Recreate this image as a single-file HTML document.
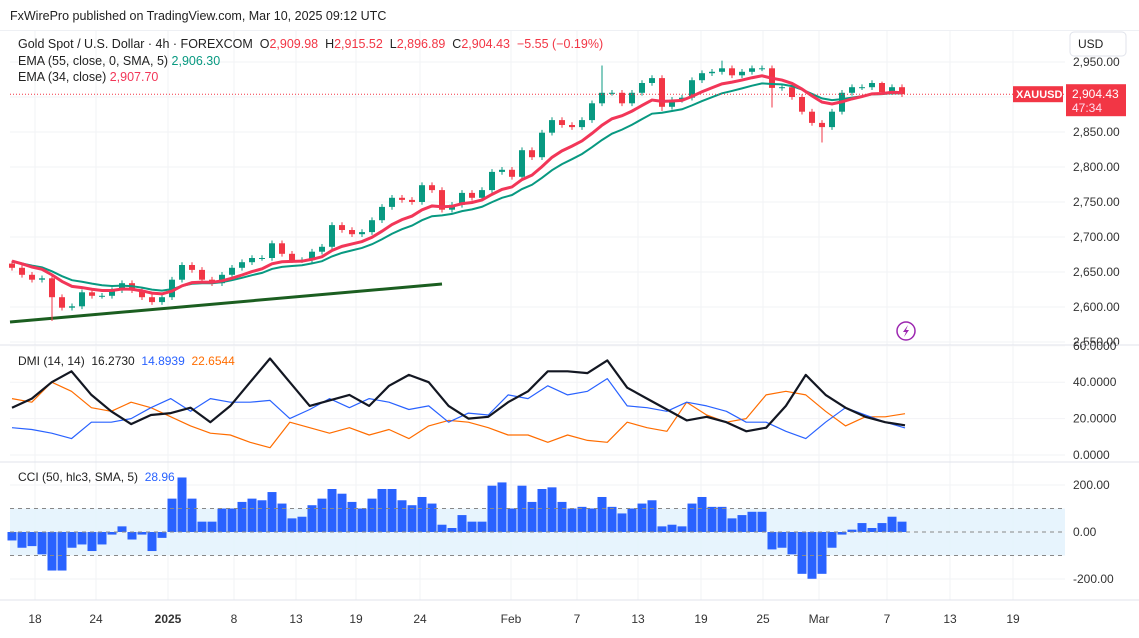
<!DOCTYPE html>
<html><head><meta charset="utf-8"><style>
body{margin:0;background:#fff;font-family:"Liberation Sans",sans-serif;}
#wrap{position:relative;width:1139px;height:638px;overflow:hidden;}
svg text{font-family:"Liberation Sans",sans-serif;}
</style></head><body>
<div id="wrap">
<svg id="c" width="1139" height="638"></svg>
</div>
<script>
const closes=[2656,2646,2639,2641,2614,2599,2601,2621,2616,2616,2624,2634,2624,2614,2607,2614,2639,2660,2653,2639,2634,2646,2656,2664,2670,2670,2691,2676,2667,2667,2679,2686,2717,2710,2704,2707,2724,2743,2756,2753,2750,2774,2767,2739,2746,2763,2756,2767,2793,2796,2786,2824,2814,2849,2867,2860,2857,2867,2891,2906,2906,2891,2906,2920,2927,2886,2896,2899,2924,2934,2936,2941,2931,2936,2941,2941,2913,2914,2900,2879,2863,2857,2879,2906,2914,2914,2920,2907,2914,2904];
const openFirst=2662;
const lowSpikes={4:2580,43:2735,65:2880,76:2885,81:2835};
const highSpikes={59:2945,71:2952,87:2922};
const adx=[26,31,40,46,33,24,17,22,23,26,18,27,40,53,40,27,30,33,27,38,44,40,27,20,21,29,35,46,46,45,52,37,31,25,19,21,18,13,15,27,44,33,26,21,18,16.3];
const plusDI=[15,14,12,9,18,18,20,26,31,24,31,29,29,30,20,25,31,26,31,29,25,27,18,23,22,33,31,38,33,35,42,27,26,24,29,27,24,18,18,13,9,18,26,22,18,14.9];
const minusDI=[31,29,40,35,26,24,29,26,21,16,12,11,7,4,18,15,12,15,11,14,9,16,19,18,15,11,11,7,11,8,7,18,15,13,29,22,18,20,33,35,33,24,16,21,21,22.7];
const cci=[-36,-67,-60,-95,-164,-164,-67,-53,-81,-53,-11,24,-32,-11,-81,-25,142,232,142,44,44,100,100,128,142,135,170,121,58,65,114,142,183,163,128,100,142,183,183,135,114,149,121,31,17,72,44,44,197,211,100,197,128,183,190,128,100,107,100,149,107,79,100,121,135,24,31,24,121,149,107,107,58,72,86,86,-74,-67,-95,-178,-199,-178,-67,-11,10,38,17,38,65,44];
const priceTicks=[2950,2900,2850,2800,2750,2700,2650,2600,2550];
const priceTickLabels=["2,950.00","","2,850.00","2,800.00","2,750.00","2,700.00","2,650.00","2,600.00","2,550.00"];
const dmiTicks=[60,40,20,0];
const dmiTickLabels=["60.0000","40.0000","20.0000","0.0000"];
const cciTicks=[200,0,-200];
const cciTickLabels=["200.00","0.00","-200.00"];
const dateLabels=["18","24","2025","8","13","19","24","Feb","7","13","19","25","Mar","7","13","19"];
const datePos=[35,96,168,234,296,356,420,511,577,638,701,763,819,887,950,1013];

const svg=document.getElementById('c');
const NS='http://www.w3.org/2000/svg';
function el(t,a,p){const e=document.createElementNS(NS,t);for(const k in a)e.setAttribute(k,a[k]);(p||svg).appendChild(e);return e;}
const yP=p=>62+(2950-p)*0.7;
const yD=v=>455-v*1.82;
const yC=v=>532-v*0.235;
const xBar=i=>12+i*10;
const xD=i=>12+i*(893/45);
const L=10,R=1065;

for(const x of datePos){const g=el('line',{x1:x,x2:x,y1:30,y2:600,stroke:'#f2f3f6'});}
priceTicks.forEach((p,i)=>{const g=el('line',{x1:L,x2:R,y1:yP(p),y2:yP(p),stroke:'#f2f3f6'});
 const t=el('text',{x:1073,y:yP(p)+4,'font-size':12,fill:'#333'});t.textContent=priceTickLabels[i];});
el('line',{x1:0,x2:1139,y1:345,y2:345,stroke:'#e0e3eb',});
el('line',{x1:0,x2:1139,y1:462,y2:462,stroke:'#e0e3eb',});
el('line',{x1:0,x2:1139,y1:600,y2:600,stroke:'#e0e3eb',});
el('rect',{x:0,y:30,width:1139,height:1,fill:'#eef0f4',});

let t=el('text',{x:10,y:20,'font-size':12.5,fill:'#222'});t.textContent='FxWirePro published on TradingView.com, Mar 10, 2025 09:12 UTC';
t=el('text',{x:18,y:48,'font-size':12.5,fill:'#222'});
t.innerHTML='Gold Spot / U.S. Dollar · 4h · FOREXCOM  O<tspan fill="#f23645">2,909.98</tspan>  H<tspan fill="#f23645">2,915.52</tspan>  L<tspan fill="#f23645">2,896.89</tspan>  C<tspan fill="#f23645">2,904.43  −5.55 (−0.19%)</tspan>';
t.style.whiteSpace='pre';
t=el('text',{x:18,y:65,'font-size':12.5,fill:'#222'});t.innerHTML='EMA (55, close, 0, SMA, 5) <tspan fill="#089981">2,906.30</tspan>';
t=el('text',{x:18,y:81,'font-size':12.5,fill:'#222'});t.innerHTML='EMA (34, close) <tspan fill="#f23658">2,907.70</tspan>';

el('rect',{x:1070,y:32,width:56,height:24,rx:4,fill:'#fff',stroke:'#e0e3eb',});
t=el('text',{x:1078,y:48,'font-size':12,fill:'#222'});t.textContent='USD';

el('line',{x1:10,y1:322,x2:442,y2:284,stroke:'#1b5e20','stroke-width':3,});

closes.forEach((c,i)=>{
 const o=i===0?openFirst:closes[i-1];
 let hi=Math.max(o,c)+4, lo=Math.min(o,c)-4;
 if(highSpikes[i]!==undefined)hi=highSpikes[i];
 if(lowSpikes[i]!==undefined)lo=lowSpikes[i];
 const col=c>=o?'#089981':'#f23645';const x=xBar(i);
 const g=el('g',{});
 el('line',{x1:x,x2:x,y1:yP(hi),y2:yP(lo),stroke:col,'stroke-width':1},g);
 const y1=yP(Math.max(o,c)),y2=yP(Math.min(o,c));
 el('rect',{x:x-3,y:y1,width:6,height:Math.max(1,y2-y1),fill:col},g);
});
function ema(seed,a){let e=seed;return closes.map(c=>{e=e+a*(c-e);return e;});}
const e34=ema(2668,2/(9+1)),e55=ema(2666,2/(14+1));
let d=e55.map((v,i)=>(i?'L':'M')+xBar(i)+','+yP(v)).join('');
el('path',{d,fill:'none',stroke:'#089981','stroke-width':2,});
d=e34.map((v,i)=>(i?'L':'M')+xBar(i)+','+yP(v)).join('');
el('path',{d,fill:'none',stroke:'#f23658','stroke-width':3,});

const lp=yP(closes[closes.length-1]);
el('line',{x1:L,x2:1065,y1:lp,y2:lp,stroke:'#f23645','stroke-dasharray':'1,2',});
el('rect',{x:1013,y:lp-8,width:50,height:16,fill:'#f23645',});
t=el('text',{x:1016,y:lp+4,'font-size':11,fill:'#fff','font-weight':'bold'});t.textContent='XAUUSD';
el('rect',{x:1066,y:lp-10,width:60,height:32,fill:'#f23645',});
t=el('text',{x:1072,y:lp+4,'font-size':12,fill:'#fff'});t.textContent='2,904.43';
t=el('text',{x:1072,y:lp+18,'font-size':12,fill:'#fde'});t.textContent='47:34';

el('circle',{cx:906,cy:331,r:9,fill:'#fff',stroke:'#9c27b0','stroke-width':1.5,});
el('path',{d:'M908,325 L903,332 L906,332 L904,337 L909,330 L906,330 Z',fill:'#9c27b0',});

dmiTicks.forEach((v,i)=>{const g=el('line',{x1:L,x2:R,y1:yD(v),y2:yD(v),stroke:'#f2f3f6'});
 const tt=el('text',{x:1073,y:yD(v)+4,'font-size':12,fill:'#333'});tt.textContent=dmiTickLabels[i];});
function dline(arr,col,w,name){const dd=arr.map((v,i)=>(i?'L':'M')+xD(i).toFixed(1)+','+yD(v).toFixed(1)).join('');const p=el('path',{d:dd,fill:'none',stroke:col,'stroke-width':w,'stroke-linejoin':'round'});}
dline(minusDI,'#ff6d00',1.2,'minus-di-line');
dline(plusDI,'#2962ff',1.2,'plus-di-line');
dline(adx,'#131722',2.2,'adx-line');
t=el('text',{x:18,y:365,'font-size':12,fill:'#222'});t.innerHTML='DMI (14, 14)  16.2730  <tspan fill="#2962ff">14.8939</tspan>  <tspan fill="#ff6d00">22.6544</tspan>';t.style.whiteSpace='pre';

el('rect',{x:L,y:yC(100),width:R-L,height:yC(-100)-yC(100),fill:'#e3f2fd','opacity':0.85,});
cciTicks.forEach((v,i)=>{const g=el('line',{x1:L,x2:R,y1:yC(v),y2:yC(v),stroke:'#f2f3f6'});
 const tt=el('text',{x:1073,y:yC(v)+4,'font-size':12,fill:'#333'});tt.textContent=cciTickLabels[i];});
cci.forEach((v,i)=>{const y0=yC(0),y1=yC(v);const b=el('rect',{x:xBar(i)-4.5,y:Math.min(y0,y1),width:9,height:Math.abs(y1-y0),fill:'#2962ff'});});
[100,0,-100].forEach(v=>{const g=el('line',{x1:L,x2:R,y1:yC(v),y2:yC(v),stroke:'#888','stroke-dasharray':'4,4'});});
t=el('text',{x:18,y:481,'font-size':12,fill:'#222'});t.innerHTML='CCI (50, hlc3, SMA, 5)  <tspan fill="#2962ff">28.96</tspan>';t.style.whiteSpace='pre';

dateLabels.forEach((s,i)=>{const tt=el('text',{x:datePos[i],y:623,'font-size':12,fill:'#333','text-anchor':'middle','font-weight':s==='2025'?'bold':'normal'});tt.textContent=s;});
</script>
</body></html>
